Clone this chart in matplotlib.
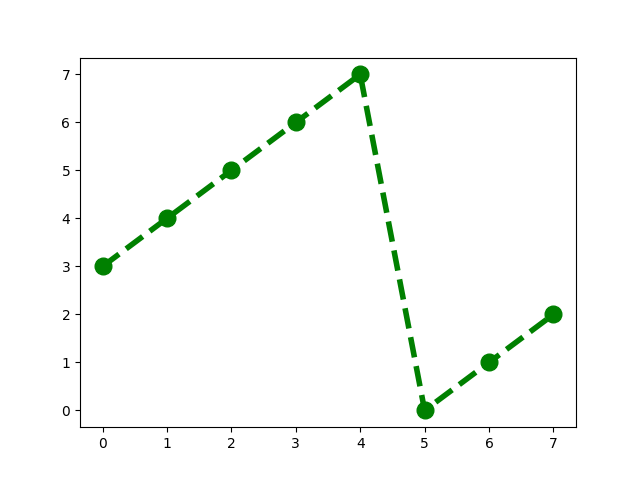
import matplotlib
matplotlib.use('Agg')
import matplotlib.pyplot as plt

# 数据
x_vals = [0, 1, 2, 3, 4, 5, 6, 7]
y_vals = [3, 4, 5, 6, 7, 0, 1, 2]

fig = plt.figure(figsize=(6.4, 4.8), dpi=100)
plt.plot(x_vals, y_vals, color='green', linestyle='dashed', linewidth=4,
         marker='o', markersize=12)
plt.savefig('out.png')
